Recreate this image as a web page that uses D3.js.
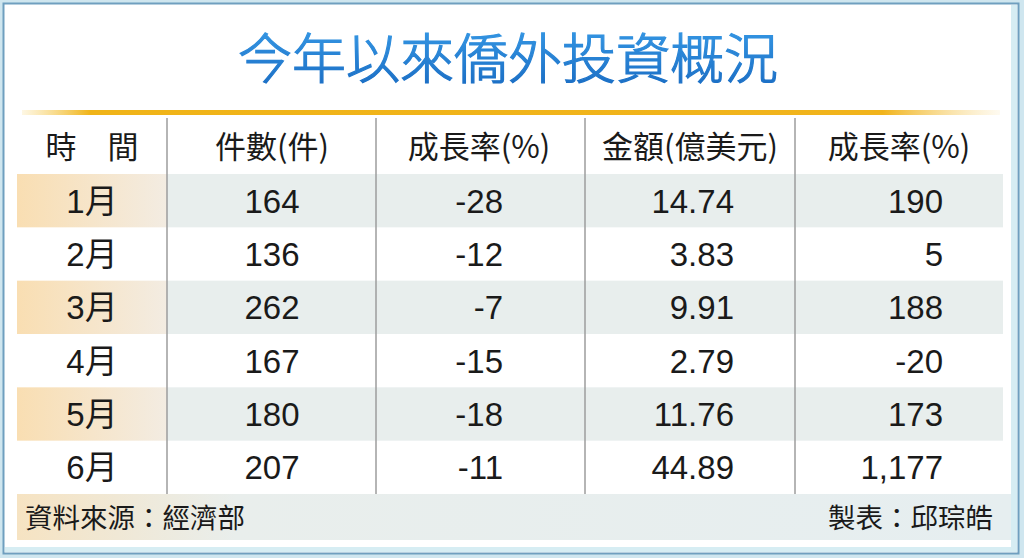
<!DOCTYPE html>
<html>
<head>
<meta charset="utf-8">
<script src="https://cdn.jsdelivr.net/npm/d3@7"></script>
<style>
  body { margin: 0; background: #fff; }
  svg { display: block; }
</style>
</head>
<body>
<div id="table"></div>
<script>
// table data
var title = "今年以來僑外投資概況";
var headers = ["時\u3000間", "件數(件)", "成長率(%)", "金額(億美元)", "成長率(%)"];
var months = ["1月", "2月", "3月", "4月", "5月", "6月"];
var cases = [164, 136, 262, 167, 180, 207];
var caseGrowth = [-28, -12, -7, -15, -18, -11];
var amount = [14.74, 3.83, 9.91, 2.79, 11.76, 44.89];
var amountGrowth = [190, 5, 188, -20, 173, 1177];
var source = "資料來源：經濟部";
var maker = "製表：邱琮皓";

var svgWidth = 1024;
var svgHeight = 558;

var cjk = "'Noto Sans CJK TC', 'Noto Sans CJK SC', sans-serif";
var num = "'Liberation Sans', Arial, 'Noto Sans CJK TC', sans-serif";

// plain hyphen for negatives, like the print table
var locale = d3.formatLocale({
  decimal: ".", thousands: ",", grouping: [3], currency: ["", ""], minus: "-"
});

var svg = d3.select("#table")
  .append("svg")
  .attr("width", svgWidth)
  .attr("height", svgHeight);

var defs = svg.append("defs");

// gradients
var tg = defs.append("linearGradient").attr("id", "titleGrad")
  .attr("x1", 0).attr("y1", 0).attr("x2", 0).attr("y2", 1);
tg.append("stop").attr("offset", "0%").attr("stop-color", "#3a9fea");
tg.append("stop").attr("offset", "100%").attr("stop-color", "#1768c0");

var gold = defs.append("linearGradient").attr("id", "goldGrad");
gold.append("stop").attr("offset", "0%").attr("stop-color", "#f6c94a").attr("stop-opacity", 0.15);
gold.append("stop").attr("offset", "7%").attr("stop-color", "#f0b418");
gold.append("stop").attr("offset", "88%").attr("stop-color", "#f1b41c");
gold.append("stop").attr("offset", "100%").attr("stop-color", "#f6d070").attr("stop-opacity", 0.1);

var peach = defs.append("linearGradient").attr("id", "peachGrad");
peach.append("stop").attr("offset", "0%").attr("stop-color", "#f9deb2");
peach.append("stop").attr("offset", "100%").attr("stop-color", "#f3ece2");

var foot = defs.append("linearGradient").attr("id", "footGrad");
foot.append("stop").attr("offset", "0%").attr("stop-color", "#f6e3c2");
foot.append("stop").attr("offset", "22%").attr("stop-color", "#e9eeec");
foot.append("stop").attr("offset", "100%").attr("stop-color", "#e6eef0");

// outer frame
svg.append("rect")
  .attr("x", 1).attr("y", 1)
  .attr("width", 1020).attr("height", 555)
  .attr("fill", "none")
  .attr("stroke", "#cfe6ef").attr("stroke-width", 6);
svg.append("rect")
  .attr("x", 3.5).attr("y", 3.5)
  .attr("width", 1015).attr("height", 550)
  .attr("fill", "#fff")
  .attr("stroke", "#6f9fbf").attr("stroke-width", 2);
svg.append("rect")
  .attr("x", 1011).attr("y", 5)
  .attr("width", 6).attr("height", 547)
  .attr("fill", "#d6edf3");
svg.append("rect")
  .attr("x", 5).attr("y", 547)
  .attr("width", 1012).attr("height", 5)
  .attr("fill", "#d6edf3");

// title
svg.append("text")
  .attr("x", 508).attr("y", 79)
  .attr("text-anchor", "middle")
  .attr("font-family", cjk)
  .attr("font-size", 54)
  .attr("font-weight", 300)
  .attr("fill", "url(#titleGrad)")
  .attr("stroke", "url(#titleGrad)")
  .attr("stroke-width", 1.2)
  .text(title);

// gold rule
svg.append("rect")
  .attr("x", 22).attr("y", 110)
  .attr("width", 978).attr("height", 5)
  .attr("fill", "url(#goldGrad)");

// layout
var colEdges = [17, 167, 376, 585, 795, 1003];
var headCenters = [92, 272, 479, 690, 899];

var y = d3.scaleBand()
  .domain(months)
  .range([174, 494]);

var rows = months.map(function(m, i) {
  return [m, cases[i], caseGrowth[i], amount[i], amountGrowth[i]];
});
var fmt = [
  function(d) { return d; },
  locale.format("d"),
  locale.format("d"),
  locale.format(".2f"),
  locale.format(",")
];
var colX = [92, 272, 503, 734, 943];
var colAnchor = ["middle", "middle", "end", "end", "end"];

// striped rows
var rowG = svg.selectAll(".row")
  .data(rows)
  .enter()
  .append("g")
  .attr("class", "row")
  .attr("transform", function(d) { return "translate(0," + y(d[0]) + ")"; });

rowG.filter(function(d, i) { return i % 2 === 0; })
  .each(function() {
    var g = d3.select(this);
    g.append("rect")
      .attr("x", colEdges[0]).attr("y", 0)
      .attr("width", colEdges[1] - colEdges[0])
      .attr("height", y.bandwidth())
      .attr("fill", "url(#peachGrad)");
    g.append("rect")
      .attr("x", colEdges[1]).attr("y", 0)
      .attr("width", colEdges[5] - colEdges[1])
      .attr("height", y.bandwidth())
      .attr("fill", "#e8eeed");
  });

// cell texts
rowG.selectAll("text")
  .data(function(d) { return d; })
  .enter()
  .append("text")
  .attr("x", function(d, j) { return colX[j]; })
  .attr("y", y.bandwidth() / 2 + 12)
  .attr("text-anchor", function(d, j) { return colAnchor[j]; })
  .attr("font-family", num)
  .attr("font-size", 33)
  .attr("fill", "#1a1a1a")
  .text(function(d, j) { return fmt[j](d); });

// header
svg.selectAll(".head")
  .data(headers)
  .enter()
  .append("text")
  .attr("class", "head")
  .attr("x", function(d, i) { return headCenters[i]; })
  .attr("y", 158)
  .attr("text-anchor", "middle")
  .attr("font-family", cjk)
  .attr("font-size", 31)
  .attr("fill", "#1a1a1a")
  .text(function(d) { return d; });

// column dividers
svg.selectAll(".div")
  .data(colEdges.slice(1, 5))
  .enter()
  .append("line")
  .attr("x1", function(d) { return d; })
  .attr("x2", function(d) { return d; })
  .attr("y1", 118)
  .attr("y2", 494)
  .attr("stroke", "#9c9c9c")
  .attr("stroke-width", 1.5);

// footer band
svg.append("rect")
  .attr("x", 17).attr("y", 494)
  .attr("width", 994).attr("height", 46)
  .attr("fill", "url(#footGrad)");

svg.append("text")
  .attr("x", 25).attr("y", 528)
  .attr("font-family", cjk)
  .attr("font-size", 27.5)
  .attr("fill", "#1a1a1a")
  .text(source);

svg.append("text")
  .attr("x", 993).attr("y", 528)
  .attr("text-anchor", "end")
  .attr("font-family", cjk)
  .attr("font-size", 27.5)
  .attr("fill", "#1a1a1a")
  .text(maker);
</script>
</body>
</html>
